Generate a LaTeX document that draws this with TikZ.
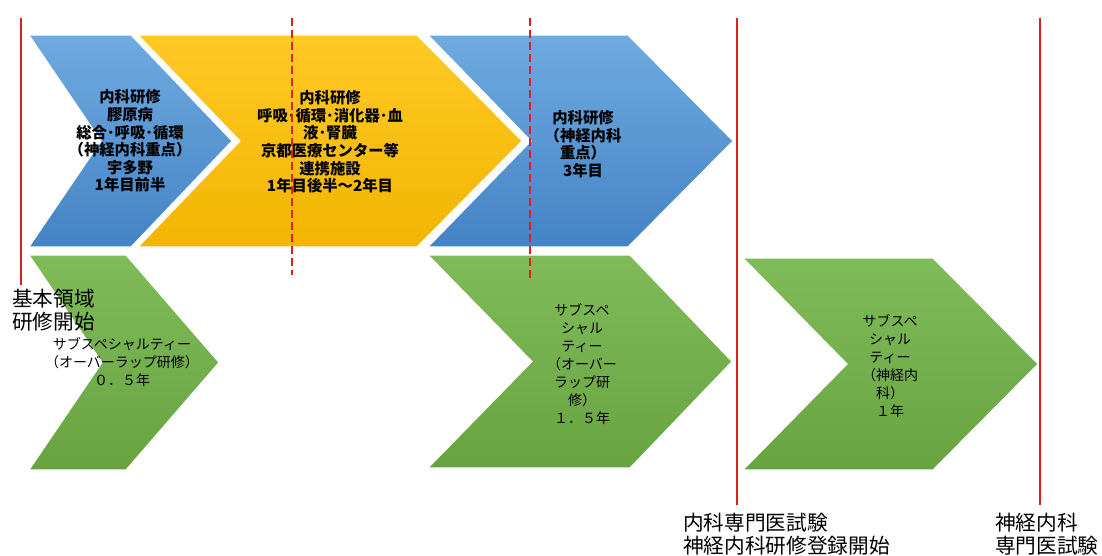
\documentclass[tikz,border=0pt]{standalone}
\usepackage{fontspec}
\setmainfont{Noto Sans CJK JP}
\definecolor{chevblueT}{HTML}{6FAAE0}
\definecolor{chevblueB}{HTML}{4483C5}
\definecolor{chevyellowT}{HTML}{FFC926}
\definecolor{chevyellowB}{HTML}{F2B500}
\definecolor{chevgreenT}{HTML}{80BB59}
\definecolor{chevgreenB}{HTML}{67A440}
\definecolor{mkred}{HTML}{E0201B}
\begin{document}
\begin{tikzpicture}[x=0.75pt,y=-0.75pt,
  redline/.style={draw=mkred,line width=1.8pt},
  reddash/.style={draw=mkred,line width=2pt,dash pattern=on 6pt off 3pt},
  blueshade/.style={top color=chevblueT,bottom color=chevblueB},
  yellowshade/.style={top color=chevyellowT,bottom color=chevyellowB},
  greenshade/.style={top color=chevgreenT,bottom color=chevgreenB},
  chevtext/.style={align=center,inner sep=0pt,font=\fontsize{11.5}{13.2}\selectfont\bfseries},
  subtext/.style={align=center,inner sep=0pt,font=\fontsize{10.5}{13.6}\selectfont},
  marklabel/.style={align=left,inner sep=0pt,font=\fontsize{15.5}{17.5}\selectfont}]
\useasboundingbox (0,0) rectangle (1102,556);

% #1 left x, #2 right x, #3 notch depth, #4 tip depth, #5 top y, #6 bottom y, #7 shade
\newcommand{\chevbox}[7]{
  \def\ym{(#5+#6)/2}
  \path[#7,draw=white,line width=0.8pt] (#1,#5) -- (#2,#5) -- ({#2+#4},{\ym}) -- (#2,#6) -- (#1,#6) -- ({#1+#3},{\ym}) -- cycle;
}

% upper row: internal medicine
\chevbox{29}{131}{72}{101}{35}{247}{blueshade}
\chevbox{138}{417}{102}{105}{35}{247}{yellowshade}
\chevbox{428}{628}{103}{105}{35}{247}{blueshade}
% lower row: subspecialty
\chevbox{29}{126}{73}{93}{255}{470}{greenshade}
\chevbox{428}{630}{104}{102}{255}{468}{greenshade}
\chevbox{743}{933}{104}{105}{258}{470}{greenshade}

\node[chevtext] (naika1) at (130,141) {内科研修\\膠原病\\総合･呼吸･循環\\（神経内科重点）\\宇多野\\1年目前半};
\node[chevtext] (naika2) at (330,142) {内科研修\\呼吸･循環･消化器･血\\液･腎臓\\京都医療センター等\\連携施設\\1年目後半～2年目};
\node[chevtext] (naika3) at (583,144) {内科研修\\（神経内科\\重点）\\3年目};
\node[subtext] (sub1) at (122,362) {サブスペシャルティー\\（オーバーラップ研修）\\０．５年};
\node[subtext] (sub2) at (582,364) {サブスペ\\シャル\\ティー\\（オーバー\\ラップ研\\修）\\１．５年};
\node[subtext] (sub3) at (890,366) {サブスペ\\シャル\\ティー\\（神経内\\科）\\１年};

% milestone lines
\foreach \name/\x/\yb/\sty in {start/21/285/redline, half/292/275/reddash, three/530/278/reddash, naiexam/737/505/redline, shinexam/1040/505/redline} {
  \coordinate (\name-t) at (\x,18);
  \coordinate (\name-b) at (\x,\yb);
  \draw[\sty] (\name-t) -- (\name-b);
}

\node[marklabel,anchor=west] (startlbl) at (12,310) {基本領域\\研修開始};
\node[marklabel,anchor=west] (naiexamlbl) at (683,534) {内科専門医試験\\神経内科研修登録開始};
\node[marklabel,anchor=west] (shinexamlbl) at (995,534) {神経内科\\専門医試験};
\end{tikzpicture}
\end{document}
